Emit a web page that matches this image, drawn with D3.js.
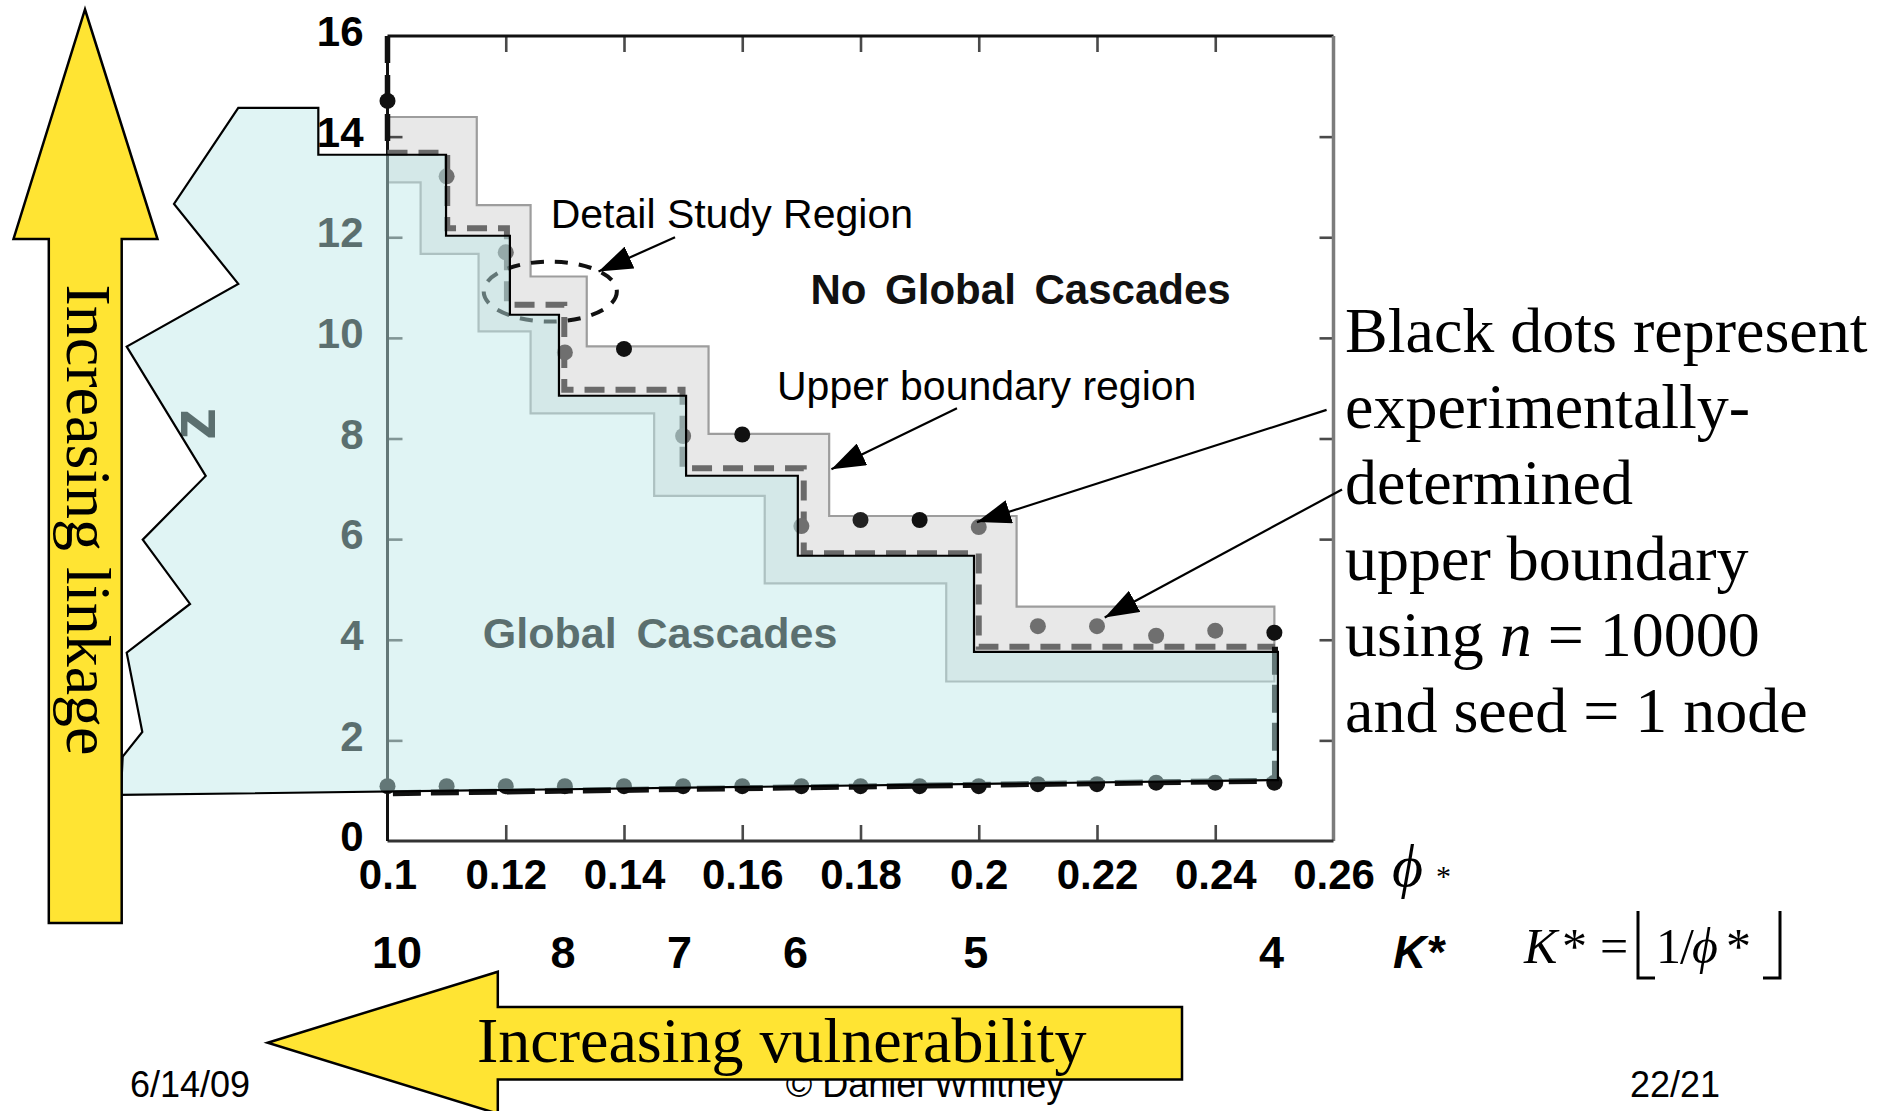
<!DOCTYPE html>
<html>
<head>
<meta charset="utf-8">
<script src="https://cdn.jsdelivr.net/npm/d3@7"></script>
<style>
  html, body { margin: 0; padding: 0; background: #fff; }
  svg { display: block; }
</style>
</head>
<body>
<svg id="chart" width="1891" height="1111"></svg>
<script>
// ---------------- data ----------------
const phiTicks = [0.1, 0.12, 0.14, 0.16, 0.18, 0.2, 0.22, 0.24, 0.26];
const zTicks = [0, 2, 4, 6, 8, 10, 12, 14, 16];

// K* = floor(1/phi*) labels and where they sit along the phi axis
const kStarLabels = ["10", "8", "7", "6", "5", "4"];
const kStarPhi = [0.1016, 0.1297, 0.1494, 0.1690, 0.1995, 0.2495];

// experimentally-determined upper boundary (n = 10000, one seed node)
const upperPhi = [0.10, 0.11, 0.12, 0.13, 0.14, 0.15, 0.16, 0.17, 0.18, 0.19, 0.20, 0.21, 0.22, 0.23, 0.24, 0.25];
const upperZ   = [14.71, 13.21, 11.70, 9.71, 9.78, 8.05, 8.08, 6.26, 6.38, 6.38, 6.24, 4.27, 4.27, 4.08, 4.18, 4.14];

// experimentally-determined lower boundary
const lowerPhi = [0.10, 0.11, 0.12, 0.13, 0.14, 0.15, 0.16, 0.17, 0.18, 0.19, 0.20, 0.21, 0.22, 0.23, 0.24, 0.25];
const lowerZ   = [1.09, 1.09, 1.09, 1.09, 1.09, 1.09, 1.09, 1.09, 1.09, 1.09, 1.09, 1.13, 1.13, 1.16, 1.16, 1.16];

// upper boundary region (grey band): outer and inner staircase edges
const bandOuterEdges  = [0.1151, 0.1242, 0.1337, 0.1543, 0.1747, 0.2064, 0.2500];
const bandOuterLevels = [14.39, 12.64, 11.22, 9.83, 8.09, 6.46, 4.66];
const bandInnerEdges  = [0.1056, 0.1154, 0.1242, 0.1451, 0.1638, 0.1945, 0.2500];
const bandInnerLevels = [13.09, 11.67, 10.13, 8.50, 6.86, 5.12, 3.17];

// analytic cascade window (dashed staircase)
const dashEdges  = [0.1101, 0.1202, 0.1299, 0.1499, 0.1704, 0.2000, 0.2501];
const dashLevels = [13.68, 12.18, 10.66, 8.97, 7.41, 5.72, 3.86];
const dashTopZ = 16;
const dashLower = [[0.2501, 3.86], [0.2501, 1.20], [0.1, 0.95]];

// global cascade region boundary (solid staircase) and its lower edge
const solidEdges  = [0.1099, 0.1207, 0.1290, 0.1505, 0.1694, 0.1992, 0.2506];
const solidLevels = [13.64, 12.03, 10.46, 8.85, 7.26, 5.67, 3.76];
const solidStartPhi = 0.0883;
const regionBottom = [[0.2506, 1.21], [0.0549, 0.915]];
// torn left edge of the global cascade region, bottom to top
const regionTornEdge = [
  [0.05521, 1.676], [0.05853, 2.167], [0.05589, 3.744], [0.06660, 4.712],
  [0.05860, 5.990], [0.06925, 7.256], [0.05589, 9.827], [0.07476, 11.074],
  [0.06389, 12.664], [0.07476, 14.57], [0.0883, 14.57]
];

// detail study region ellipse (centre phi, centre z, half-width phi, half-height z)
const detailEllipse = { phi: 0.12753, z: 10.92, rPhi: 0.01126, rZ: 0.596 };

// ---------------- styles ----------------
const upperDotTone = ["#111", "#6f6f6f", "#6f6f6f", "#6f6f6f", "#111", "#6f6f6f", "#111", "#6f6f6f",
                      "#222", "#111", "#707070", "#6f6f6f", "#6f6f6f", "#6f6f6f", "#6f6f6f", "#111"];
const SANS = "'Liberation Sans', Arial, Helvetica, sans-serif";
const SERIF = "'Liberation Serif', 'Times New Roman', Times, serif";
const YELLOW = "#ffe433";
const PHI = "\u03D5";

// ---------------- scales ----------------
const svg = d3.select("#chart");
const x = d3.scaleLinear().domain([0.1, 0.26]).range([387.5, 1333.5]);
const y = d3.scaleLinear().domain([0, 16]).range([841, 36]);
const line = d3.line().x(d => x(d[0])).y(d => y(d[1]));

function staircase(x0, edges, levels) {
  const pts = [[x0, levels[0]]];
  edges.forEach((e, i) => {
    pts.push([e, levels[i]]);
    if (i + 1 < levels.length) pts.push([e, levels[i + 1]]);
  });
  return pts;
}

// ---------------- footer ----------------
const footer = svg.append("g").attr("font-family", SANS).attr("font-size", 36).attr("fill", "#000");
footer.append("text").attr("x", 130).attr("y", 1097).text("6/14/09");
footer.append("text").attr("x", 925).attr("y", 1097).attr("text-anchor", "middle").text("© Daniel Whitney");
footer.append("text").attr("x", 1630).attr("y", 1097).text("22/21");

// ---------------- upper boundary band ----------------
const bandOuter = staircase(0.1, bandOuterEdges, bandOuterLevels);
const bandInner = staircase(0.1, bandInnerEdges, bandInnerLevels);
svg.append("path")
  .attr("d", line(bandOuter.concat(bandInner.slice().reverse())) + "Z")
  .attr("fill", "#e8e8e8")
  .attr("stroke", "#9d9d9d")
  .attr("stroke-width", 2.2);

// ---------------- axes ----------------
const axisBottom = svg.append("g")
  .attr("transform", `translate(0,${y(0)})`)
  .call(d3.axisBottom(x).tickValues(phiTicks).tickSize(-16).tickPadding(18)
        .tickFormat(d => String(+d.toFixed(2))));
const axisLeft = svg.append("g")
  .attr("transform", `translate(${x(0.1)},0)`)
  .call(d3.axisLeft(y).tickValues(zTicks).tickSize(-15).tickPadding(24));
const axisTop = svg.append("g")
  .attr("transform", `translate(0,${y(16)})`)
  .call(d3.axisTop(x).tickValues(phiTicks.slice(1, -1)).tickSize(-16).tickFormat(""));
const axisRight = svg.append("g")
  .attr("transform", `translate(${x(0.26)},0)`)
  .call(d3.axisRight(y).tickValues(zTicks.slice(1, -1)).tickSize(-14).tickFormat(""));

[axisBottom, axisLeft, axisTop, axisRight].forEach(g => {
  g.select(".domain").remove();
  g.selectAll(".tick line").attr("stroke", "#4a4a4a").attr("stroke-width", 2.6);
  g.selectAll(".tick text")
    .attr("font-family", SANS).attr("font-weight", "bold")
    .attr("font-size", 42).attr("fill", "#000");
});
axisBottom.selectAll(".tick").filter(d => d === 0.1 || d === 0.26).select("line").remove();
axisLeft.selectAll(".tick").filter(d => d === 0 || d === 16).select("line").remove();
axisLeft.selectAll(".tick text").attr("dy", "0.23em");

// frame
const frame = svg.append("g").attr("fill", "none");
frame.append("line").attr("x1", x(0.1)).attr("x2", x(0.26)).attr("y1", y(16)).attr("y2", y(16))
  .attr("stroke", "#111").attr("stroke-width", 3);
frame.append("line").attr("x1", x(0.26)).attr("x2", x(0.26)).attr("y1", y(16)).attr("y2", y(0))
  .attr("stroke", "#7c7c7c").attr("stroke-width", 3.5);
frame.append("line").attr("x1", x(0.1)).attr("x2", x(0.26)).attr("y1", y(0)).attr("y2", y(0))
  .attr("stroke", "#333").attr("stroke-width", 3);
frame.append("line").attr("x1", x(0.1)).attr("x2", x(0.1)).attr("y1", y(16)).attr("y2", y(0))
  .attr("stroke", "#111").attr("stroke-width", 3);

// z axis title
svg.append("text")
  .attr("transform", "translate(193,424) rotate(-90)")
  .attr("text-anchor", "middle").attr("dominant-baseline", "central")
  .attr("font-family", SANS).attr("font-weight", "bold").attr("font-size", 64)
  .attr("fill", "#000").text("z");

// ---------------- cascade window boundaries ----------------
svg.append("path")
  .attr("d", line(staircase(0.1, dashEdges, dashLevels)))
  .attr("fill", "none").attr("stroke", "#6a6a6a").attr("stroke-width", 6)
  .attr("stroke-dasharray", "20 11");
svg.append("path")
  .attr("d", line([[0.1, dashTopZ], [0.1, dashLevels[0]]]))
  .attr("fill", "none").attr("stroke", "#111").attr("stroke-width", 5.5)
  .attr("stroke-dasharray", "27 12");
svg.append("path")
  .attr("d", line(dashLower))
  .attr("fill", "none").attr("stroke", "#111").attr("stroke-width", 6)
  .attr("stroke-dasharray", "28 10");

// experimental points
svg.append("g").selectAll("circle").data(upperPhi).join("circle")
  .attr("cx", d => x(d)).attr("cy", (d, i) => y(upperZ[i])).attr("r", 8)
  .attr("fill", (d, i) => upperDotTone[i]);
svg.append("g").selectAll("circle").data(lowerPhi).join("circle")
  .attr("cx", d => x(d)).attr("cy", (d, i) => y(lowerZ[i])).attr("r", 8)
  .attr("fill", "#111");

// detail study region
svg.append("ellipse")
  .attr("cx", x(detailEllipse.phi)).attr("cy", y(detailEllipse.z))
  .attr("rx", x(detailEllipse.phi + detailEllipse.rPhi) - x(detailEllipse.phi))
  .attr("ry", y(detailEllipse.z) - y(detailEllipse.z + detailEllipse.rZ))
  .attr("fill", "none").attr("stroke", "#111").attr("stroke-width", 4)
  .attr("stroke-dasharray", "13 11");

// region label underneath the tint
svg.append("text")
  .attr("x", x(0.11612)).attr("y", y(3.831))
  .attr("font-family", SANS).attr("font-weight", "bold").attr("font-size", 43)
  .attr("word-spacing", 8).attr("fill", "#000").text("Global Cascades");

// ---------------- global cascade region (tinted overlay) ----------------
const regionPts = staircase(solidStartPhi, solidEdges, solidLevels)
  .concat(regionBottom)
  .concat(regionTornEdge);
svg.append("path")
  .attr("d", line(regionPts) + "Z")
  .attr("fill", "rgb(190,232,232)").attr("fill-opacity", 0.48)
  .attr("stroke", "#000").attr("stroke-width", 2.2).attr("stroke-linejoin", "miter");

// ---------------- annotations ----------------
const defs = svg.append("defs");
defs.append("marker").attr("id", "head")
  .attr("markerUnits", "userSpaceOnUse")
  .attr("viewBox", "0 0 34 24").attr("refX", 34).attr("refY", 12)
  .attr("markerWidth", 34).attr("markerHeight", 24).attr("orient", "auto")
  .append("path").attr("d", "M0,0 L34,12 L0,24 Z").attr("fill", "#000");

const ann = svg.append("g").attr("font-family", SANS).attr("fill", "#000");
ann.append("text").attr("x", x(0.1276)).attr("y", y(12.18)).attr("font-size", 41).text("Detail Study Region");
ann.append("text").attr("x", x(0.16588)).attr("y", y(8.767)).attr("font-size", 41).text("Upper boundary region");
ann.append("text").attr("x", x(0.17154)).attr("y", y(10.676)).attr("font-size", 42)
  .attr("font-weight", "bold").attr("word-spacing", 7).attr("fill", "#111").text("No Global Cascades");

const arrows = [
  [[0.14863, 12.0], [0.13569, 11.32]],
  [[0.19632, 8.602], [0.17508, 7.39]],
  [[0.25883, 8.569], [0.19969, 6.338]],
  [[0.26144, 6.986], [0.2213, 4.443]]
];
svg.append("g").selectAll("path").data(arrows).join("path")
  .attr("d", d => line(d))
  .attr("stroke", "#000").attr("stroke-width", 2.2).attr("fill", "none")
  .attr("marker-end", "url(#head)");

// explanatory note on the right
const note = svg.append("g").attr("font-family", SERIF).attr("font-size", 64).attr("fill", "#000");
const noteLines = ["Black dots represent", "experimentally-", "determined", "upper boundary", null, "and seed = 1 node"];
noteLines.forEach((t, i) => {
  const tx = note.append("text").attr("x", 1345).attr("y", 352 + 76 * i);
  if (t !== null) { tx.text(t); return; }
  tx.append("tspan").text("using ");
  tx.append("tspan").attr("font-style", "italic").text("n");
  tx.append("tspan").text(" = 10000");
});

// ---------------- direction arrows ----------------
const upArrow = [[85, 9.5], [157.5, 239], [121.7, 239], [121.7, 923], [48.8, 923], [48.8, 239], [13.5, 239]];
svg.append("path").attr("d", "M" + upArrow.join("L") + "Z")
  .attr("fill", YELLOW).attr("stroke", "#000").attr("stroke-width", 2.5).attr("stroke-linejoin", "miter");
svg.append("text")
  .attr("transform", "translate(67,520) rotate(90)")
  .attr("text-anchor", "middle")
  .attr("font-family", SERIF).attr("font-size", 64).attr("fill", "#000")
  .text("Increasing linkage");

const leftArrow = [[267.7, 1042.7], [497.8, 971.7], [497.8, 1007], [1182, 1007], [1182, 1079.5], [497.8, 1079.5], [497.8, 1113.7]];
svg.append("path").attr("d", "M" + leftArrow.join("L") + "Z")
  .attr("fill", YELLOW).attr("stroke", "#000").attr("stroke-width", 2.5).attr("stroke-linejoin", "miter");
svg.append("text")
  .attr("x", 477).attr("y", 1062)
  .attr("font-family", SERIF).attr("font-size", 64).attr("fill", "#000")
  .text("Increasing vulnerability");

// ---------------- phi* axis name, K* row and formula ----------------
svg.append("text").attr("x", 1392).attr("y", 886)
  .attr("font-family", SERIF).attr("font-style", "italic").attr("font-size", 60).text(PHI);
svg.append("text").attr("x", 1436).attr("y", 886)
  .attr("font-family", SERIF).attr("font-size", 30).text("*");

svg.append("g").selectAll("text").data(kStarLabels).join("text")
  .attr("x", (d, i) => x(kStarPhi[i])).attr("y", 968)
  .attr("text-anchor", "middle")
  .attr("font-family", SANS).attr("font-weight", "bold").attr("font-size", 45)
  .text(d => d);
svg.append("text").attr("x", 1393).attr("y", 968)
  .attr("font-family", SANS).attr("font-weight", "bold").attr("font-style", "italic")
  .attr("font-size", 46).text("K*");

const f = svg.append("g").attr("font-family", SERIF).attr("font-size", 50).attr("fill", "#000");
f.append("text").attr("x", 1524).attr("y", 963).attr("font-style", "italic").text("K");
f.append("text").attr("x", 1562).attr("y", 963).text("*");
f.append("text").attr("x", 1600).attr("y", 963).text("=");
f.append("text").attr("x", 1656).attr("y", 963).text("1");
f.append("text").attr("x", 1680).attr("y", 963).text("/");
f.append("text").attr("x", 1692).attr("y", 963).attr("font-style", "italic").text(PHI);
f.append("text").attr("x", 1726).attr("y", 963).text("*");
f.append("path").attr("d", "M1655,978 L1638,978 L1638,911")
  .attr("fill", "none").attr("stroke", "#000").attr("stroke-width", 3);
f.append("path").attr("d", "M1763,978 L1780,978 L1780,911")
  .attr("fill", "none").attr("stroke", "#000").attr("stroke-width", 3);
</script>
</body>
</html>
